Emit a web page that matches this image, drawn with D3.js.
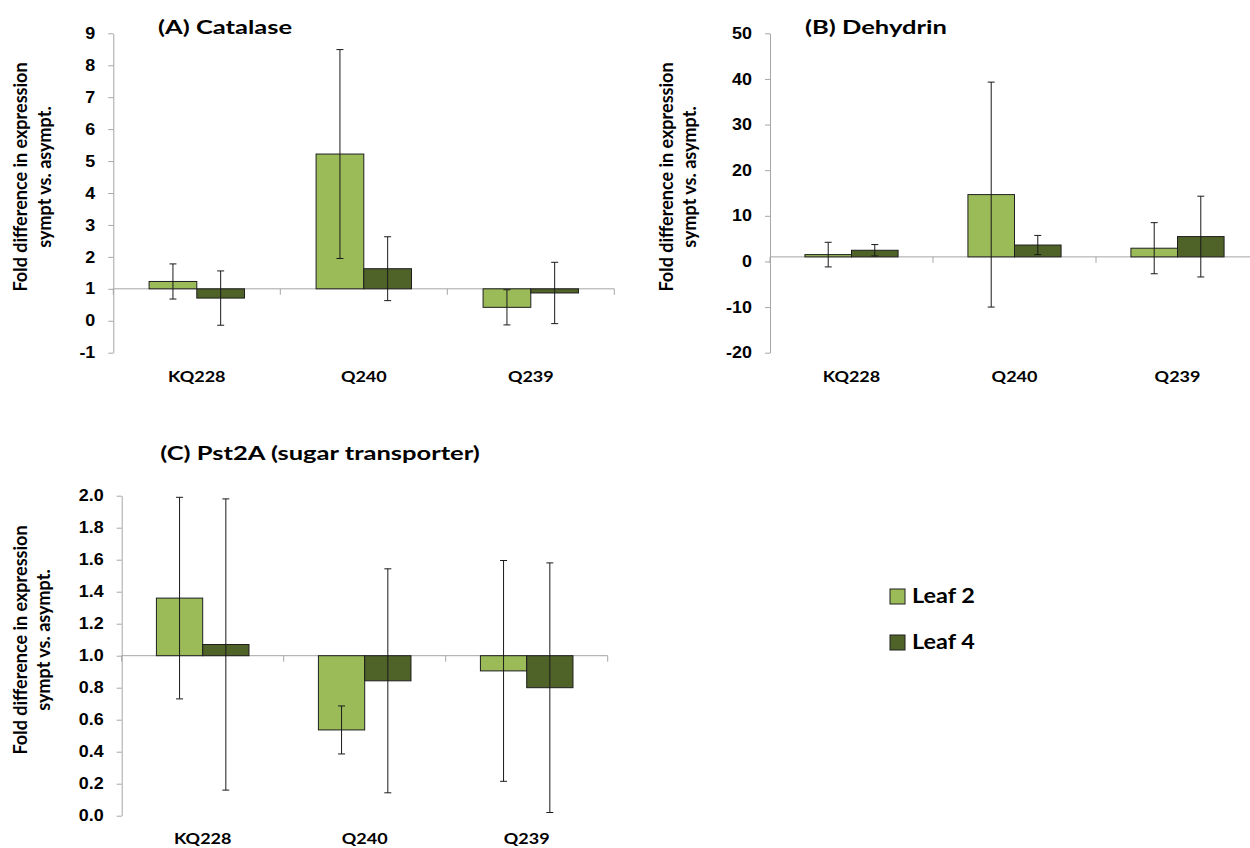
<!DOCTYPE html>
<html>
<head>
<meta charset="utf-8">
<script src="https://cdn.jsdelivr.net/npm/d3@7"></script>
<style>
  html, body { margin: 0; padding: 0; background: #fff; }
  svg { display: block; font-family: "Lato", "Liberation Sans", sans-serif; }
  text { fill: #000; font-weight: bold; }
</style>
</head>
<body>
<svg id="chart" width="1250" height="848"></svg>
<script>
// Genotypes and leaf series
const categories = ["KQ228", "Q240", "Q239"];
const seriesNames = ["Leaf 2", "Leaf 4"];

// (A) Catalase: mean fold change and error
const catalaseLeaf2 = [1.23, 5.22, 0.42];
const catalaseLeaf2Err = [0.55, 3.27, 0.55];
const catalaseLeaf4 = [0.71, 1.63, 0.87];
const catalaseLeaf4Err = [0.85, 1.00, 0.96];
const catalaseTicks = [-1, 0, 1, 2, 3, 4, 5, 6, 7, 8, 9];

// (B) Dehydrin
const dehydrinLeaf2 = [1.5, 14.65, 2.9];
const dehydrinLeaf2Err = [2.7, 24.65, 5.6];
const dehydrinLeaf4 = [2.45, 3.6, 5.45];
const dehydrinLeaf4Err = [1.25, 2.1, 8.85];
const dehydrinTicks = [-20, -10, 0, 10, 20, 30, 40, 50];

// (C) Pst2A (sugar transporter)
const pst2aLeaf2 = [1.36, 0.536, 0.905];
const pst2aLeaf2Err = [0.63, 0.15, 0.69];
const pst2aLeaf4 = [1.07, 0.843, 0.80];
const pst2aLeaf4Err = [0.91, 0.70, 0.78];
const pst2aTicks = [0.0, 0.2, 0.4, 0.6, 0.8, 1.0, 1.2, 1.4, 1.6, 1.8, 2.0];

// Bars grow from the "no change" level
const baselineValue = 1;

const seriesColors = ["#9bbb59", "#4f6228"];
const axisColor = "#a6a6a6";
const barStroke = "#1f1f1f";
const errColor = "#1a1a1a";

// Horizontal widening of the lettering
const stretchTitle = 1.38;
const stretchTick = 1.12;
const stretchCat = 1.2;
const stretchLegend = 1.17;

const svg = d3.select("#chart");

// place a horizontally widened text at (x, y)
function wideText(parent, x, y, str, size, sx, anchor) {
  return parent.append("text")
    .attr("transform", `translate(${x},${y}) scale(${sx},1)`)
    .attr("text-anchor", anchor || "start")
    .style("font-size", size + "px")
    .text(str);
}

function drawPanel(p) {
  const g = svg.append("g");
  const x = d3.scaleBand().domain(categories).range([p.left, p.right]).padding(0);
  const xs = d3.scaleBand().domain(seriesNames).range([0, x.bandwidth()])
    .paddingInner(0).paddingOuter(0.75);
  const y = d3.scaleLinear().domain([p.ticks[0], p.ticks[p.ticks.length - 1]])
    .range([p.bottom, p.top]);

  // value axis
  const yAxis = d3.axisLeft(y).tickValues(p.ticks).tickSize(5).tickSizeOuter(0)
    .tickPadding(13).tickFormat(p.format);
  const ya = g.append("g").attr("transform", `translate(${p.left},0)`).call(yAxis);
  ya.selectAll("path, line").attr("stroke", axisColor);
  ya.selectAll("text")
    .style("font-size", "16px").style("font-weight", "bold").attr("fill", "#000")
    .attr("x", -18 / stretchTick)
    .attr("transform", `scale(${stretchTick},1)`);

  // category axis at the baseline level
  const yb = y(baselineValue);
  g.append("line").attr("x1", p.left).attr("x2", p.right)
    .attr("y1", yb).attr("y2", yb).attr("stroke", axisColor);
  const bounds = categories.map(c => x(c)).concat([p.right]);
  g.selectAll(".ctick").data(bounds).enter().append("line")
    .attr("x1", d => d).attr("x2", d => d)
    .attr("y1", yb).attr("y2", yb + 6).attr("stroke", axisColor);

  categories.forEach(c => {
    wideText(g, x(c) + x.bandwidth() / 2, p.labelY, c, 15, stretchCat, "middle");
  });

  // bars
  const rows = [];
  categories.forEach((c, i) => {
    p.series.forEach((s, k) => {
      rows.push({ cat: c, name: seriesNames[k], v: s.values[i], e: s.errors[i], k: k });
    });
  });
  g.selectAll(".bar").data(rows).enter().append("rect")
    .attr("x", d => x(d.cat) + xs(d.name))
    .attr("width", xs.bandwidth())
    .attr("y", d => y(Math.max(d.v, baselineValue)))
    .attr("height", d => Math.abs(y(d.v) - y(baselineValue)))
    .attr("fill", d => seriesColors[d.k])
    .attr("stroke", barStroke).attr("stroke-width", 1);

  // error bars
  const cap = 3.5;
  const eb = g.selectAll(".err").data(rows).enter().append("g")
    .attr("stroke", errColor).attr("stroke-width", 1);
  const cx = d => x(d.cat) + xs(d.name) + xs.bandwidth() / 2;
  eb.append("line").attr("x1", cx).attr("x2", cx)
    .attr("y1", d => y(d.v + d.e)).attr("y2", d => y(d.v - d.e));
  eb.append("line").attr("x1", d => cx(d) - cap).attr("x2", d => cx(d) + cap)
    .attr("y1", d => y(d.v + d.e)).attr("y2", d => y(d.v + d.e));
  eb.append("line").attr("x1", d => cx(d) - cap).attr("x2", d => cx(d) + cap)
    .attr("y1", d => y(d.v - d.e)).attr("y2", d => y(d.v - d.e));

  // panel title
  wideText(g, p.titleX, p.titleY, p.title, 18.5, stretchTitle, p.titleAnchor);

  // value axis title, two lines
  [["Fold difference in expression", p.yTitleX1], ["sympt vs. asympt.", p.yTitleX2]]
    .forEach(([t, tx]) => {
      g.append("text")
        .attr("transform", `translate(${tx},${p.yTitleY}) rotate(-90)`)
        .attr("text-anchor", "middle").attr("dy", "0.35em")
        .style("font-size", "18px")
        .text(t);
    });
}

const intFormat = d => String(d);
const oneDecimal = d => d.toFixed(1);

drawPanel({
  title: "(A) Catalase", titleX: 158, titleY: 34,
  left: 113.3, right: 614.3, top: 33.3, bottom: 352.7,
  ticks: catalaseTicks, format: intFormat, labelY: 382,
  yTitleX1: 21, yTitleX2: 45, yTitleY: 177,
  series: [
    { values: catalaseLeaf2, errors: catalaseLeaf2Err },
    { values: catalaseLeaf4, errors: catalaseLeaf4Err }
  ]
});

drawPanel({
  title: "(B) Dehydrin", titleX: 805, titleY: 34,
  left: 770, right: 1259, top: 33.3, bottom: 352.7,
  ticks: dehydrinTicks, format: intFormat, labelY: 382,
  yTitleX1: 667, yTitleX2: 690, yTitleY: 177,
  series: [
    { values: dehydrinLeaf2, errors: dehydrinLeaf2Err },
    { values: dehydrinLeaf4, errors: dehydrinLeaf4Err }
  ]
});

drawPanel({
  title: "(C) Pst2A (sugar transporter)", titleX: 320, titleY: 460, titleAnchor: "middle",
  left: 121.7, right: 607.7, top: 495.7, bottom: 815.7,
  ticks: pst2aTicks, format: oneDecimal, labelY: 844,
  yTitleX1: 21, yTitleX2: 44, yTitleY: 640,
  series: [
    { values: pst2aLeaf2, errors: pst2aLeaf2Err },
    { values: pst2aLeaf4, errors: pst2aLeaf4Err }
  ]
});

// legend
const legend = svg.append("g").attr("transform", "translate(890,589)");
seriesNames.forEach((name, i) => {
  const row = legend.append("g").attr("transform", `translate(0,${i * 46})`);
  row.append("rect").attr("width", 15).attr("height", 15)
    .attr("fill", seriesColors[i]).attr("stroke", barStroke);
  wideText(row, 22, 14, name, 20, stretchLegend, "start");
});
</script>
</body>
</html>
